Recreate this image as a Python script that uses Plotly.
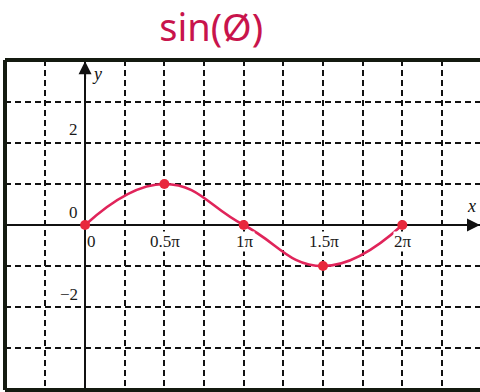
import plotly.graph_objects as go

# sample points of sin(phi), x in multiples of pi
x_pi = [0, 0.5, 1, 1.5, 2]
y_sin = [0, 1, 0, -1, 0]

x_tick_vals = [0, 0.5, 1, 1.5, 2]
x_tick_text = ["0", "0.5\u03c0", "1\u03c0", "1.5\u03c0", "2\u03c0"]
y_tick_vals = [2, 0, -2]
y_tick_text = ["2", "0", "\u22122"]

X_RANGE = [-0.505, 2.49]
Y_RANGE = [-4.02, 4.02]

CURVE = "#e0245a"
DOT = "#e8283c"
INK = "#111111"
LABEL_FONT = dict(family="Liberation Serif, serif", size=17, color="#1a1a1a")

fig = go.Figure()

fig.add_trace(go.Scatter(
    x=x_pi, y=y_sin, mode="lines",
    line=dict(color=CURVE, width=2.6, shape="spline", smoothing=1.3),
    hoverinfo="skip", showlegend=False,
))
fig.add_trace(go.Scatter(
    x=x_pi, y=y_sin, mode="markers",
    marker=dict(color=DOT, size=10),
    showlegend=False,
))

annotations = []
# x tick labels along the horizontal axis
for v, t in zip(x_tick_vals, x_tick_text):
    annotations.append(dict(
        x=v, y=0, xref="x", yref="y", text=t, showarrow=False,
        font=LABEL_FONT, xanchor="left" if v == 0 else "center",
        yanchor="middle", yshift=-16, xshift=1, bgcolor="white",
        borderpad=0,
    ))
# y tick labels left of the vertical axis, just above their gridline
for v, t in zip(y_tick_vals, y_tick_text):
    annotations.append(dict(
        x=0, y=v, xref="x", yref="y", text=t, showarrow=False,
        font=LABEL_FONT, xanchor="right", yanchor="middle",
        xshift=-5, yshift=13,
    ))
# axis names
annotations.append(dict(x=X_RANGE[1], y=0, xref="x", yref="y", text="<i>x</i>",
                        showarrow=False, font=dict(family="Liberation Serif, serif", size=18, color=INK),
                        xanchor="right", yanchor="middle", xshift=-2, yshift=19))
annotations.append(dict(x=0, y=Y_RANGE[1], xref="x", yref="y", text="<i>y</i>",
                        showarrow=False, font=dict(family="Liberation Serif, serif", size=18, color=INK),
                        xanchor="left", yanchor="top", xshift=5, yshift=-2))
# arrowheads at the ends of both axes
annotations.append(dict(x=X_RANGE[1], y=0, ax=X_RANGE[1] - 0.1, ay=0,
                        xref="x", yref="y", axref="x", ayref="y", text="",
                        showarrow=True, arrowhead=2, arrowsize=1.3, arrowwidth=2,
                        arrowcolor=INK, standoff=0))
annotations.append(dict(x=0, y=Y_RANGE[1] - 0.03, ax=0, ay=Y_RANGE[1] - 0.5,
                        xref="x", yref="y", axref="x", ayref="y", text="",
                        showarrow=True, arrowhead=2, arrowsize=1.3, arrowwidth=2,
                        arrowcolor=INK, standoff=0))

# frame on left, top and bottom of the grid
frame = dict(color="#141a10", width=4)
shapes = [
    dict(type="line", xref="paper", yref="paper", x0=0, x1=1, y0=1, y1=1, line=frame),
    dict(type="line", xref="paper", yref="paper", x0=0, x1=1, y0=0, y1=0, line=frame),
    dict(type="line", xref="paper", yref="paper", x0=0, x1=0, y0=0, y1=1, line=frame),
]

fig.update_layout(
    width=480, height=392,
    margin=dict(l=5, r=0, t=60, b=2),
    paper_bgcolor="white", plot_bgcolor="white",
    showlegend=False,
    title=dict(text="sin(\u00d8)", xref="container", yref="container",
               x=0.44, y=1 - 28 / 392, xanchor="center", yanchor="middle",
               font=dict(family="Noto Sans, sans-serif", size=38, color="#c8144c")),
    annotations=annotations,
    shapes=shapes,
)
fig.update_xaxes(
    range=X_RANGE, tick0=0, dtick=0.25, showticklabels=False, ticks="",
    showgrid=True, gridcolor=INK, gridwidth=2, griddash="6px,4px",
    zeroline=True, zerolinecolor=INK, zerolinewidth=2, showline=False,
    fixedrange=True,
)
fig.update_yaxes(
    range=Y_RANGE, tick0=0, dtick=1, showticklabels=False, ticks="",
    showgrid=True, gridcolor=INK, gridwidth=2, griddash="6px,4px",
    zeroline=True, zerolinecolor=INK, zerolinewidth=2, showline=False,
    fixedrange=True,
)

fig.write_html("out.html")
